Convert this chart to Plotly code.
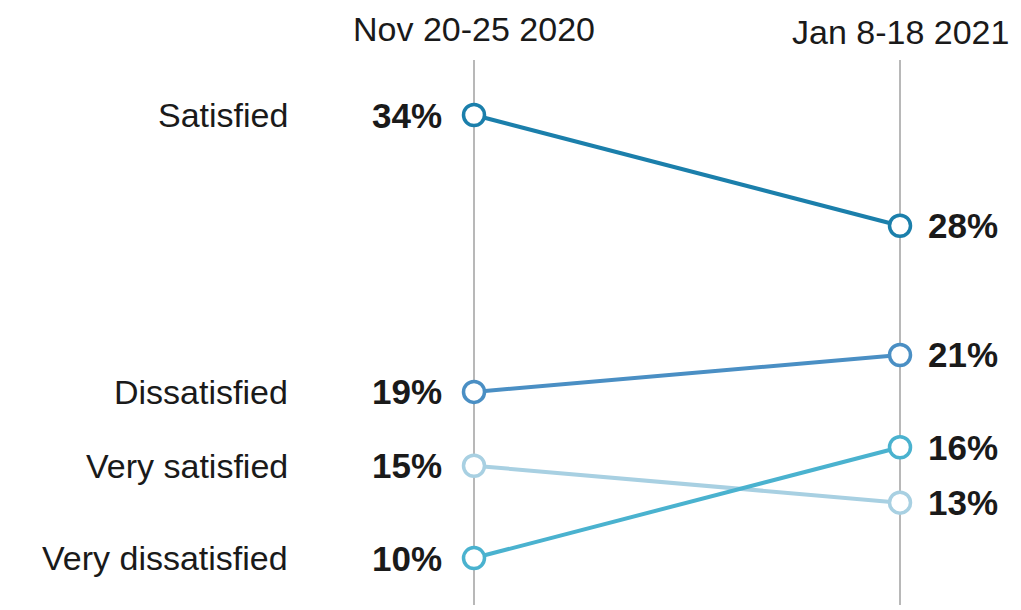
import plotly.graph_objects as go

# ---- data ----
categories = ["Satisfied", "Dissatisfied", "Very satisfied", "Very dissatisfied"]
nov_2020 = [34, 19, 15, 10]
jan_2021 = [28, 21, 13, 16]
periods = ["Nov 20-25 2020", "Jan 8-18 2021"]
period_x = [0, 1]

colors = {
    "Satisfied": "#1b7fab",
    "Dissatisfied": "#4a8fc4",
    "Very satisfied": "#a8d0e2",
    "Very dissatisfied": "#4ab2cf",
}

# page body has an 8px margin; figure is sized/positioned to compensate
OFF = 8
W, H = 1021 - OFF, 610 - OFF
FONT = "Liberation Sans, Arial, Helvetica, sans-serif"
TXT = "#1a1a1a"

fig = go.Figure()

# vertical guide lines (screen y 60..605)
for px in period_x:
    fig.add_shape(type="line", xref="x", yref="paper", x0=px, x1=px,
                  y0=1 - (605 - OFF) / H, y1=1 - (60 - OFF) / H,
                  line=dict(color="#a0a0a0", width=1.5), layer="below")

for cat, a, b in zip(categories, nov_2020, jan_2021):
    fig.add_trace(go.Scatter(
        x=period_x, y=[a, b], mode="lines+markers", name=cat,
        line=dict(color=colors[cat], width=4),
        marker=dict(size=21, color="white", line=dict(color=colors[cat], width=3.5)),
        showlegend=False, hoverinfo="skip"))
    fig.add_annotation(x=period_x[0], y=a, text=f"<b>{a}%</b>", showarrow=False,
                       xanchor="right", xshift=-30,
                       font=dict(family=FONT, size=35, color=TXT))
    fig.add_annotation(x=period_x[1], y=b, text=f"<b>{b}%</b>", showarrow=False,
                       xanchor="left", xshift=26,
                       font=dict(family=FONT, size=35, color=TXT))
    fig.add_annotation(x=period_x[0], y=a, text=cat, showarrow=False,
                       xanchor="right", xshift=-184,
                       font=dict(family=FONT, size=34, color=TXT))

# period headers
fig.add_annotation(x=period_x[0], xref="x", y=1 - (29 - OFF) / H, yref="paper",
                   text=periods[0], showarrow=False, xanchor="center", yanchor="middle",
                   borderpad=0, font=dict(family=FONT, size=34, color=TXT))
fig.add_annotation(x=period_x[1], xref="x", y=1 - (32 - OFF) / H, yref="paper",
                   text=periods[1], showarrow=False, xanchor="center", yanchor="middle",
                   borderpad=0, font=dict(family=FONT, size=34, color=TXT))

# axis ranges: period 0 at screen x=474, period 1 at 900; 34% at y=115, 10% at y=558
x_per_px = 1 / 426.0
x0 = -(474 - OFF) * x_per_px
x1 = x0 + W * x_per_px
pct_per_px = 1 / 18.46
y_top = 34 + (115 - OFF) * pct_per_px
y_bot = y_top - H * pct_per_px

fig.update_layout(
    width=W, height=H,
    margin=dict(l=0, r=0, t=0, b=0),
    paper_bgcolor="white", plot_bgcolor="white",
    xaxis=dict(range=[x0, x1], visible=False, fixedrange=True),
    yaxis=dict(range=[y_bot, y_top], visible=False, fixedrange=True),
)

fig.write_html("out.html")
